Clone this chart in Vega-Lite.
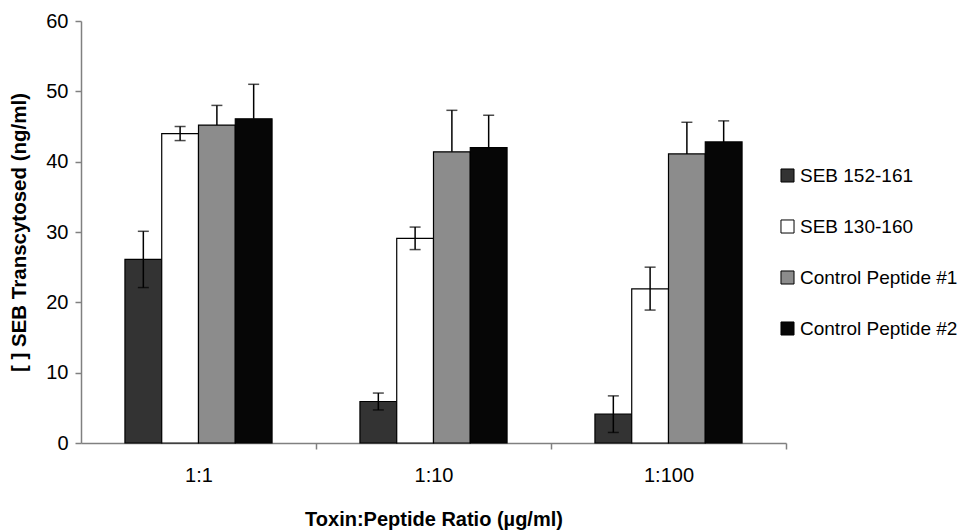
{
  "$schema": "https://vega.github.io/schema/vega-lite/v6.json",
  "width": 705,
  "height": 422,
  "autosize": {"type": "none"},
  "padding": {"left": 81, "top": 21, "right": 180, "bottom": 87},
  "background": "white",
  "config": {
    "font": "Liberation Sans",
    "view": {"stroke": null},
    "axis": {"labelFont": "Liberation Sans", "titleFont": "Liberation Sans", "labelColor": "black", "titleColor": "black"}
  },
  "data": {
    "values": [
      {"ratio": "1:1", "series": "SEB 152-161", "value": 26.1, "lo": 22.1, "hi": 30.1, "lowCap": true},
      {"ratio": "1:1", "series": "SEB 130-160", "value": 44.0, "lo": 43.0, "hi": 45.0, "lowCap": true},
      {"ratio": "1:1", "series": "Control Peptide #1", "value": 45.2, "lo": 45.2, "hi": 48.0, "lowCap": false},
      {"ratio": "1:1", "series": "Control Peptide #2", "value": 46.1, "lo": 46.1, "hi": 51.0, "lowCap": false},
      {"ratio": "1:10", "series": "SEB 152-161", "value": 5.9, "lo": 4.7, "hi": 7.1, "lowCap": true},
      {"ratio": "1:10", "series": "SEB 130-160", "value": 29.1, "lo": 27.5, "hi": 30.7, "lowCap": true},
      {"ratio": "1:10", "series": "Control Peptide #1", "value": 41.4, "lo": 41.4, "hi": 47.3, "lowCap": false},
      {"ratio": "1:10", "series": "Control Peptide #2", "value": 42.0, "lo": 42.0, "hi": 46.6, "lowCap": false},
      {"ratio": "1:100", "series": "SEB 152-161", "value": 4.1, "lo": 1.5, "hi": 6.7, "lowCap": true},
      {"ratio": "1:100", "series": "SEB 130-160", "value": 21.9, "lo": 18.9, "hi": 25.0, "lowCap": true},
      {"ratio": "1:100", "series": "Control Peptide #1", "value": 41.1, "lo": 41.1, "hi": 45.6, "lowCap": false},
      {"ratio": "1:100", "series": "Control Peptide #2", "value": 42.8, "lo": 42.8, "hi": 45.8, "lowCap": false}
    ]
  },
  "encoding": {
    "x": {
      "field": "ratio",
      "type": "nominal",
      "sort": ["1:1", "1:10", "1:100"],
      "scale": {"paddingInner": 0.374, "paddingOuter": 0.187},
      "axis": {
        "title": "Toxin:Peptide Ratio (µg/ml)",
        "titleFontSize": 20,
        "titleFontWeight": "bold",
        "titlePadding": 24,
        "labelAngle": 0,
        "labelFontSize": 20,
        "labelPadding": 16,
        "tickSize": 6,
        "tickOffset": 117.5,
        "labelOffset": -117.5,
        "tickColor": "#808080",
        "domainColor": "#808080",
        "domainWidth": 1.5,
        "tickWidth": 1.5
      }
    },
    "xOffset": {
      "field": "series",
      "type": "nominal",
      "sort": ["SEB 152-161", "SEB 130-160", "Control Peptide #1", "Control Peptide #2"],
      "scale": {"paddingInner": 0, "paddingOuter": 0}
    }
  },
  "layer": [
    {
      "mark": {"type": "bar", "stroke": "black", "strokeWidth": 1.2},
      "encoding": {
        "y": {
          "field": "value",
          "type": "quantitative",
          "scale": {"domain": [0, 60]},
          "axis": {
            "title": "[ ] SEB Transcytosed (ng/ml)",
            "titleFontSize": 20.5,
            "titleFontWeight": "bold",
            "titlePadding": 16,
            "values": [0, 10, 20, 30, 40, 50, 60],
            "labelFontSize": 20,
            "labelPadding": 7,
            "tickSize": 6,
            "grid": false,
            "tickColor": "#808080",
            "domainColor": "#808080",
            "domainWidth": 1.5,
            "tickWidth": 1.5
          }
        },
        "fill": {
          "field": "series",
          "type": "nominal",
          "sort": ["SEB 152-161", "SEB 130-160", "Control Peptide #1", "Control Peptide #2"],
          "scale": {
            "domain": ["SEB 152-161", "SEB 130-160", "Control Peptide #1", "Control Peptide #2"],
            "range": ["#333333", "#ffffff", "#8c8c8c", "#060606"]
          },
          "legend": {
            "title": null,
            "orient": "none",
            "legendX": 697,
            "legendY": 145,
            "symbolType": "square",
            "symbolSize": 170,
            "symbolStrokeColor": "black",
            "symbolStrokeWidth": 1,
            "labelFontSize": 19,
            "labelFont": "Liberation Sans",
            "labelColor": "black",
            "labelOffset": 3,
            "rowPadding": 31,
            "labelLimit": 300
          }
        }
      }
    },
    {
      "mark": {"type": "rule", "color": "black", "strokeWidth": 1.5},
      "encoding": {
        "y": {"field": "lo", "type": "quantitative"},
        "y2": {"field": "hi"}
      }
    },
    {
      "mark": {"type": "tick", "color": "black", "thickness": 1.5, "size": 11, "orient": "horizontal"},
      "encoding": {
        "y": {"field": "hi", "type": "quantitative"}
      }
    },
    {
      "transform": [{"filter": "datum.lowCap"}],
      "mark": {"type": "tick", "color": "black", "thickness": 1.5, "size": 11, "orient": "horizontal"},
      "encoding": {
        "y": {"field": "lo", "type": "quantitative"}
      }
    }
  ]
}
